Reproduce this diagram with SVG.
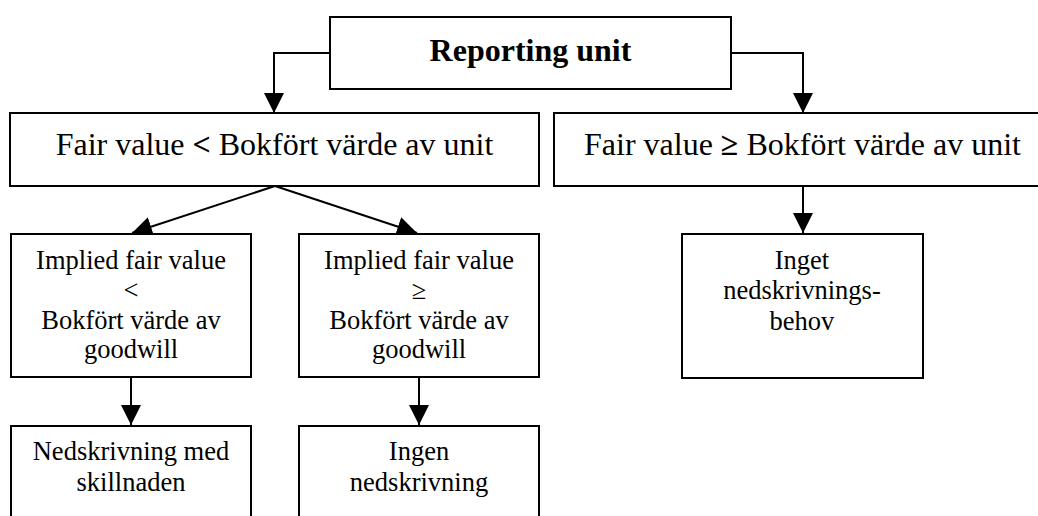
<svg xmlns="http://www.w3.org/2000/svg" width="1038" height="516" viewBox="0 0 1038 516">
<style>
.box{fill:#fff;stroke:#000;stroke-width:2}
.t{font-family:"Liberation Serif","Times New Roman",serif;fill:#000;text-anchor:middle}
.big{font-size:32px}
.sm{font-size:26.5px}
.b{font-weight:bold}
.c{fill:none;stroke:#000;stroke-width:2;marker-end:url(#ah)}
</style>
<defs>
<marker id="ah" markerUnits="userSpaceOnUse" markerWidth="20" markerHeight="20" refX="20" refY="10" orient="auto">
<path d="M0,0 L20,10 L0,20 z" fill="#000"/>
</marker>
</defs>
<rect width="1038" height="516" fill="#fff"/>
<g id="connectors">
<path class="c" d="M330,53 H274 V113"/>
<path class="c" d="M731,53 H803 V113"/>
<path class="c" d="M275,186 L132,233"/>
<path class="c" d="M275,186 L417,233"/>
<path class="c" d="M803,186 V233"/>
<path class="c" d="M131,377 V425"/>
<path class="c" d="M419,377 V425"/>
</g>
<g id="reporting-unit">
<rect class="box" x="330" y="17" width="401" height="72"/>
<text class="t big b" x="530.5" y="61">Reporting unit</text>
</g>
<g id="fv-less">
<rect class="box" x="10" y="113" width="529" height="73"/>
<text class="t big" x="274.5" y="155">Fair value <tspan class="b">&lt;</tspan> Bokfört värde av unit</text>
</g>
<g id="fv-geq">
<rect class="box" x="554" y="113" width="500" height="73"/>
<text class="t big" x="802.5" y="155">Fair value <tspan class="b">≥</tspan> Bokfört värde av unit</text>
</g>
<g id="ifv-less">
<rect class="box" x="11" y="234" width="240" height="143"/>
<text class="t sm" x="131"><tspan x="131" y="269">Implied fair value</tspan><tspan x="131" y="299">&lt;</tspan><tspan x="131" y="329">Bokfört värde av</tspan><tspan x="131" y="358">goodwill</tspan></text>
</g>
<g id="ifv-geq">
<rect class="box" x="299" y="234" width="240" height="143"/>
<text class="t sm" x="419"><tspan x="419" y="269">Implied fair value</tspan><tspan x="419" y="299">≥</tspan><tspan x="419" y="329">Bokfört värde av</tspan><tspan x="419" y="358">goodwill</tspan></text>
</g>
<g id="inget">
<rect class="box" x="682" y="234" width="241" height="144"/>
<text class="t sm" x="802"><tspan x="802" y="269">Inget</tspan><tspan x="802" y="299">nedskrivnings-</tspan><tspan x="802" y="330">behov</tspan></text>
</g>
<g id="nedskrivning">
<rect class="box" x="11" y="426" width="240" height="110"/>
<text class="t sm" x="131"><tspan x="131" y="460">Nedskrivning med</tspan><tspan x="131" y="491">skillnaden</tspan></text>
</g>
<g id="ingen">
<rect class="box" x="299" y="426" width="240" height="110"/>
<text class="t sm" x="419"><tspan x="419" y="460">Ingen</tspan><tspan x="419" y="491">nedskrivning</tspan></text>
</g>
</svg>
